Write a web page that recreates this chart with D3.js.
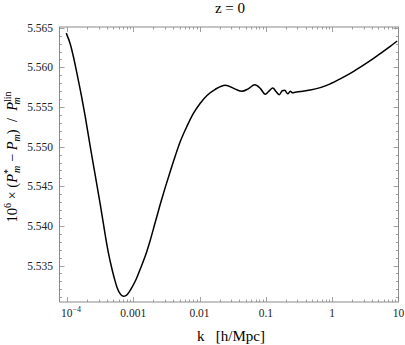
<!DOCTYPE html>
<html>
<head>
<meta charset="utf-8">
<script src="https://cdn.jsdelivr.net/npm/d3@7"></script>
<style>
  body { margin: 0; background: #fff; }
</style>
</head>
<body>
<div id="chart"></div>
<script>
// k in h/Mpc
var kValues = [
  9.760e-5, 1.1214e-4, 1.2446e-4, 1.4298e-4, 1.6430e-4, 1.888e-4, 2.2463e-4, 2.672e-4,
  3.1788e-4, 3.782e-4, 4.1979e-4, 4.658e-4, 5.1685e-4, 5.735e-4, 6.3639e-4, 7.0663e-4,
  7.8413e-4, 8.7012e-4, 9.6587e-4, 1.1099e-3, 1.2755e-3, 1.5171e-3, 1.805e-3, 2.147e-3,
  2.5545e-3, 3.0391e-3, 3.6147e-3, 4.2998e-3, 5.1158e-3, 6.5246e-3, 8.0351e-3, 1.0246e-2,
  1.3063e-2, 1.725e-2, 2.4418e-2, 3.4552e-2, 4.3301e-2, 5.4272e-2, 6.8014e-2, 8.2334e-2,
  9.7938e-2, 0.11254, 0.1271, 0.14354, 0.15925, 0.17675, 0.19281, 0.21396,
  0.23336, 0.25448, 0.27757, 0.33027, 0.46748, 0.6614, 0.93619, 1.3248,
  1.875, 2.6533, 3.7557, 5.3157, 7.5201, 9.5919
];
// 10^6 x (P*_m - P_m) / P_m^lin
var ratioValues = [
  5.56433, 5.56295, 5.56144, 5.55906, 5.55655, 5.55378, 5.55001, 5.54637,
  5.54273, 5.53883, 5.53670, 5.53494, 5.53343, 5.53217, 5.53142, 5.53111,
  5.53123, 5.53167, 5.53230, 5.53330, 5.53456, 5.53619, 5.53820, 5.54046,
  5.54273, 5.54486, 5.54687, 5.54882, 5.55064, 5.55265, 5.55416, 5.55548,
  5.55648, 5.55724, 5.55776, 5.55726, 5.55698, 5.55730, 5.55780, 5.55736,
  5.55663, 5.55705, 5.55739, 5.55692, 5.55655, 5.55705, 5.55711, 5.55667,
  5.55698, 5.55680, 5.55688, 5.55696, 5.55714, 5.55745, 5.55793, 5.55856,
  5.55925, 5.56003, 5.56085, 5.56175, 5.56266, 5.56333
];
var xTickValues = [1e-4, 1e-3, 1e-2, 1e-1, 1, 10];
var xTickLabels = ["10", "0.001", "0.01", "0.1", "1", "10"];
var yTickValues = [5.535, 5.540, 5.545, 5.550, 5.555, 5.560, 5.565];

var W = 405, H = 345;
var frame = { left: 59.5, right: 398.5, top: 27, bottom: 302 };
var serif = "'Liberation Serif', 'Times New Roman', Times, serif";

var svg = d3.select("#chart").append("svg")
    .attr("width", W)
    .attr("height", H)
    .attr("font-family", serif);

var x = d3.scaleLog().domain([7.72e-5, 10.02]).range([frame.left, frame.right]);
var y = d3.scaleLinear().domain([5.5304, 5.5651]).range([frame.bottom, frame.top]);

// minor ticks
var xMinor = [];
[1e-4, 1e-3, 1e-2, 1e-1, 1].forEach(function (d) {
    for (var i = 2; i <= 9; i++) xMinor.push(d * i);
});
var yMinor = d3.range(5.531, 5.5651, 0.001).filter(function (v) {
    return Math.abs(Math.round(v * 200) - v * 200) > 1e-6;
});

var tickColor = "#8a8a8a";
var ticks = svg.append("g").attr("stroke", tickColor).attr("stroke-width", 0.8);

function vTicks(vals, len) {
    vals.forEach(function (v) {
        var px = Math.round(x(v)) + 0.5;
        ticks.append("line").attr("x1", px).attr("x2", px)
            .attr("y1", frame.bottom).attr("y2", frame.bottom - len);
        ticks.append("line").attr("x1", px).attr("x2", px)
            .attr("y1", frame.top).attr("y2", frame.top + len);
    });
}
function hTicks(vals, len) {
    vals.forEach(function (v) {
        var py = Math.round(y(v)) + 0.5;
        ticks.append("line").attr("y1", py).attr("y2", py)
            .attr("x1", frame.left).attr("x2", frame.left + len);
        ticks.append("line").attr("y1", py).attr("y2", py)
            .attr("x1", frame.right).attr("x2", frame.right - len);
    });
}
vTicks(xTickValues, 5);
vTicks(xMinor, 2.5);
hTicks(yTickValues, 5);
hTicks(yMinor, 2.5);

// frame
svg.append("rect")
    .attr("x", frame.left).attr("y", frame.top)
    .attr("width", frame.right - frame.left)
    .attr("height", frame.bottom - frame.top)
    .attr("fill", "none")
    .attr("stroke", tickColor)
    .attr("stroke-width", 1);

// x tick labels
xTickValues.forEach(function (v, i) {
    var t = svg.append("text")
        .attr("x", x(v))
        .attr("y", 317)
        .attr("text-anchor", "middle")
        .attr("font-size", 11.5)
        .attr("fill", "#222")
        .text(xTickLabels[i]);
    if (i == 0) {
        t.attr("dx", 4);
        t.append("tspan").attr("font-size", 8).attr("dy", -5).text("\u22124");
    }
});

// y tick labels
yTickValues.forEach(function (v) {
    svg.append("text")
        .attr("x", 53)
        .attr("y", y(v) + 4)
        .attr("text-anchor", "end")
        .attr("font-size", 11.5)
        .attr("fill", "#222")
        .text(d3.format(".3f")(v));
});

// curve
var pts = kValues.map(function (k, i) { return [k, ratioValues[i]]; });
var line = d3.line()
    .x(function (d) { return x(d[0]); })
    .y(function (d) { return y(d[1]); })
    .curve(d3.curveMonotoneX);

svg.append("path")
    .datum(pts)
    .attr("d", line)
    .attr("fill", "none")
    .attr("stroke", "#000")
    .attr("stroke-width", 1.5)
    .attr("stroke-linejoin", "round");

// title
svg.append("text")
    .attr("x", 230)
    .attr("y", 13)
    .attr("text-anchor", "middle")
    .attr("font-size", 15)
    .text("z = 0");

// x label
svg.append("text")
    .attr("x", 231)
    .attr("y", 341)
    .attr("text-anchor", "middle")
    .attr("font-size", 15)
    .attr("xml:space", "preserve")
    .text("k   [h/Mpc]");

// y label
var yl = svg.append("text")
    .attr("transform", "translate(17,157) rotate(-90)")
    .attr("text-anchor", "middle")
    .attr("font-size", 14.5)
    .attr("xml:space", "preserve");
yl.append("tspan").text("10");
yl.append("tspan").attr("font-size", 10).attr("dy", -6).text("6");
yl.append("tspan").attr("dy", 6).text(" \u00d7 (");
yl.append("tspan").attr("font-style", "italic").text("P");
yl.append("tspan").attr("font-size", 10).attr("dy", -6).text("*");
yl.append("tspan").attr("font-size", 10).attr("font-style", "italic").attr("dx", -4).attr("dy", 9).text("m");
yl.append("tspan").attr("dy", -3).text(" \u2212 ");
yl.append("tspan").attr("font-style", "italic").text("P");
yl.append("tspan").attr("font-size", 10).attr("font-style", "italic").attr("dy", 3).text("m");
yl.append("tspan").attr("dy", -3).text(")  /  ");
yl.append("tspan").attr("font-style", "italic").text("P");
yl.append("tspan").attr("font-size", 10).attr("dy", -6).text("lin");
yl.append("tspan").attr("font-size", 10).attr("font-style", "italic").attr("dx", -13).attr("dy", 9).text("m");
</script>
</body>
</html>
